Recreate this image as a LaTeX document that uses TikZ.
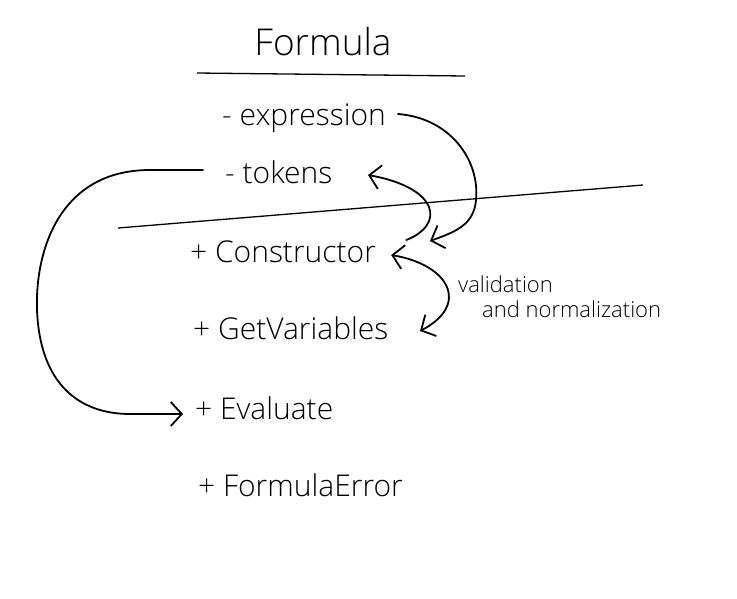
\documentclass[tikz,border=0pt]{standalone}
\usepackage{fontspec}
\setsansfont{Open Sans Light}[UprightFont=*,BoldFont=Open Sans]
\usetikzlibrary{arrows.meta}

\tikzset{
  member/.style={anchor=west, inner sep=0pt, font=\sffamily\fontsize{30}{32}\selectfont},
  note/.style={anchor=west, inner sep=0pt, font=\sffamily\fontsize{22}{24}\selectfont},
  ink/.style={line width=1.8pt, line cap=round},
  scrawl/.style={ink, -{Straight Barb[length=11pt,width=24pt,line width=1.8pt]}},
  twoway/.style={ink, {Straight Barb[length=11pt,width=24pt,line width=1.8pt]}-{Straight Barb[length=11pt,width=24pt,line width=1.8pt]}}
}

\begin{document}
\begin{tikzpicture}[x=1pt,y=-1pt]
\useasboundingbox (0,0) rectangle (737,598);

% class name
\node[inner sep=0pt, font=\sffamily\fontsize{37}{39}\selectfont] (formula) at (323,42) {Formula};
\draw[line width=1.3pt] (197,73) -- (465,76);

% fields
\node[member] (expr) at (222,118) {- expression};
\node[member] (tokens) at (225,172) {- tokens};
\draw[line width=1.3pt] (118,228) -- (643,185);

% methods
\node[member] (ctor) at (190,252) {+ Constructor};
\node[member] (getvars) at (193,328) {+ GetVariables};
\node[member] (eval) at (195,408) {+ Evaluate};
\node[member] (err) at (198,485) {+ FormulaError};

% side note
\node[note] (valid) at (458,284) {validation};
\node[note] (normal) at (482,309) {and normalization};

% arrows
\draw[scrawl] (expr.east) ++(12,-4) coordinate (e0)
  (e0) .. controls (450,118) and (480,160) .. (476,200)
  .. controls (474,225) and (455,232) .. (430,241);
\draw[scrawl] (ctor.east) ++(30,-12) coordinate (c0)
  (c0) .. controls (445,225) and (440,188) .. (368,175);
\draw[twoway] (ctor.east) ++(15,3) coordinate (c1)
  (c1) .. controls (450,265) and (470,305) .. (420,331);
\draw[scrawl] (tokens.west) ++(-22,-2) coordinate (t0)
  (t0) -- (150,170) .. controls (60,170) and (35,250) .. (37,310)
  .. controls (40,385) and (80,414) .. (130,414) -- ([xshift=-12pt,yshift=-6pt]eval.west);
\end{tikzpicture}
\end{document}
